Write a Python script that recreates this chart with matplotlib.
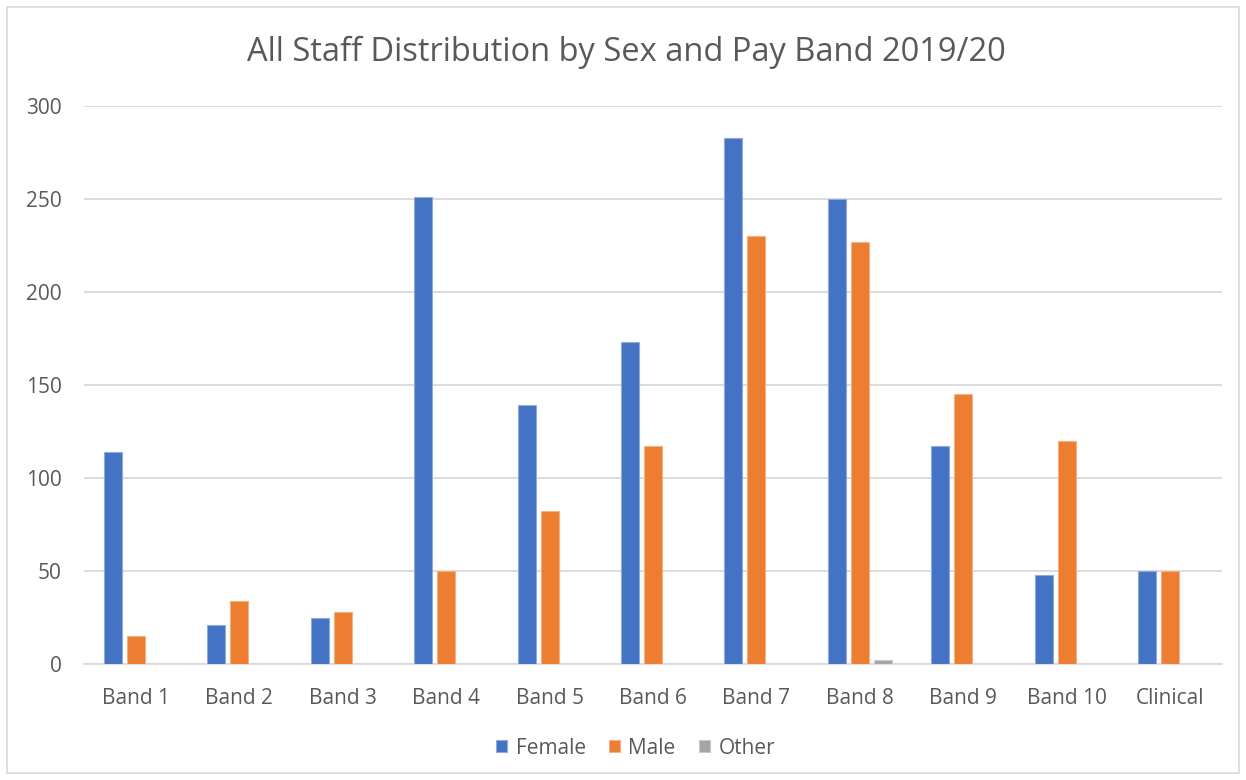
import numpy as np
import matplotlib.pyplot as plt
from matplotlib.patches import Rectangle

plt.rcParams['font.family'] = ['Open Sans', 'DejaVu Sans']

bands = ['Band 1', 'Band 2', 'Band 3', 'Band 4', 'Band 5', 'Band 6',
         'Band 7', 'Band 8', 'Band 9', 'Band 10', 'Clinical']
female = [114, 21, 25, 251, 139, 173, 283, 250, 117, 48, 50]
male = [15, 34, 28, 50, 82, 117, 230, 227, 145, 120, 50]
other = [0, 0, 0, 0, 0, 0, 0, 2, 0, 0, 0]

txt = '#595959'
fig = plt.figure(figsize=(12.46, 7.8), dpi=100)
ax = fig.add_axes([84/1246, 1-664/780, (1222-84)/1246, (664-106)/780])

x = np.arange(len(bands))
w = 0.174
step = 0.222
ax.bar(x - step, female, w, color='#4472c4', edgecolor='#8faadc', linewidth=0.8, label='Female', zorder=3)
ax.bar(x, male, w, color='#ed7d31', edgecolor='#f4b183', linewidth=0.8, label='Male', zorder=3)
ax.bar(x + step, other, w, color='#a5a5a5', edgecolor='#c9c9c9', linewidth=0.8, label='Other', zorder=3)

ax.set_xlim(-0.5, len(bands) - 0.5)
ax.set_ylim(0, 300)
ax.set_yticks(range(0, 301, 50))
ax.set_xticks(x)
ax.set_xticklabels(bands)
ax.grid(axis='y', color='#d9d9d9', linewidth=1.3, zorder=0)
for s in ['top', 'right', 'left']:
    ax.spines[s].set_visible(False)
ax.spines['bottom'].set_color('#d9d9d9')
ax.spines['bottom'].set_linewidth(1.3)
ax.tick_params(length=0, labelsize=15, colors=txt)
ax.tick_params(axis='x', pad=17)
ax.tick_params(axis='y', pad=16)

fig.text(0.503, 1-52/780, 'All Staff Distribution by Sex and Pay Band 2019/20',
         ha='center', va='center', fontsize=23.5, color=txt)

leg = fig.legend(loc='center', bbox_to_anchor=(0.51, 1-748/780), ncol=3,
                 frameon=False, fontsize=15, handlelength=0.55, handleheight=0.55,
                 handletextpad=0.4, columnspacing=1.1)
for t in leg.get_texts():
    t.set_color(txt)

fig.patches.append(Rectangle((7/1246, 7/780), 1-14/1246, 1-14/780, transform=fig.transFigure,
                             fill=False, edgecolor='#d9d9d9', linewidth=1.2))

fig.savefig('out.png', dpi=100)
